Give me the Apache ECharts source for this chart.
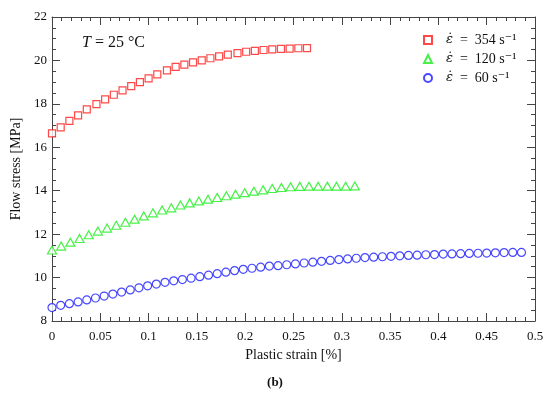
<!DOCTYPE html>
<html>
<head>
<meta charset="utf-8">
<script src="https://cdn.jsdelivr.net/npm/echarts@6/dist/echarts.min.js"></script>
<style>html,body{margin:0;padding:0;background:#fff;}#c{width:550px;height:398px;}</style>
</head>
<body>
<div id="c"></div>
<script>
// Strain [%] and flow stress [MPa]
var redX = [0, 0.009, 0.018, 0.027, 0.036, 0.046, 0.055, 0.064, 0.073, 0.082, 0.091, 0.100, 0.109, 0.119, 0.128, 0.137, 0.146, 0.155, 0.164, 0.173, 0.182, 0.192, 0.201, 0.210, 0.219, 0.228, 0.237, 0.246, 0.255, 0.264];
var redY = [16.64, 16.92, 17.22, 17.47, 17.75, 17.99, 18.21, 18.42, 18.62, 18.82, 19.00, 19.17, 19.36, 19.54, 19.70, 19.81, 19.91, 20.00, 20.10, 20.19, 20.27, 20.34, 20.40, 20.44, 20.48, 20.51, 20.53, 20.54, 20.56, 20.57];

var greenX = [0, 0.0095, 0.019, 0.0285, 0.038, 0.0475, 0.057, 0.0665, 0.076, 0.0855, 0.095, 0.1045, 0.114, 0.1235, 0.133, 0.1425, 0.152, 0.1615, 0.171, 0.1805, 0.190, 0.1995, 0.209, 0.2185, 0.228, 0.2375, 0.247, 0.2565, 0.266, 0.2755, 0.285, 0.2945, 0.304, 0.3135];
var greenY = [11.27, 11.45, 11.63, 11.80, 11.97, 12.14, 12.28, 12.41, 12.55, 12.69, 12.84, 12.98, 13.11, 13.21, 13.34, 13.44, 13.53, 13.61, 13.69, 13.77, 13.84, 13.91, 13.98, 14.04, 14.10, 14.15, 14.18, 14.20, 14.21, 14.21, 14.21, 14.21, 14.21, 14.22];

var blueX = [0, 0.009, 0.018, 0.027, 0.036, 0.045, 0.054, 0.063, 0.072, 0.081, 0.090, 0.099, 0.108, 0.117, 0.126, 0.135, 0.144, 0.153, 0.162, 0.171, 0.180, 0.189, 0.198, 0.207, 0.216, 0.225, 0.234, 0.243, 0.252, 0.261, 0.270, 0.279, 0.288, 0.297, 0.306, 0.315, 0.324, 0.333, 0.342, 0.351, 0.360, 0.369, 0.378, 0.387, 0.396, 0.405, 0.414, 0.423, 0.432, 0.441, 0.450, 0.459, 0.468, 0.477, 0.486];
var blueY = [8.62, 8.72, 8.80, 8.88, 8.97, 9.06, 9.15, 9.24, 9.33, 9.43, 9.53, 9.62, 9.70, 9.78, 9.85, 9.91, 9.97, 10.04, 10.11, 10.18, 10.25, 10.32, 10.38, 10.43, 10.48, 10.53, 10.55, 10.59, 10.63, 10.67, 10.71, 10.75, 10.79, 10.83, 10.86, 10.89, 10.92, 10.94, 10.96, 10.98, 11.00, 11.02, 11.03, 11.05, 11.06, 11.08, 11.09, 11.10, 11.11, 11.12, 11.13, 11.14, 11.15, 11.16, 11.16];

var seriesNames = ['354', '120', '60'];
var xTicks = {min: 0, max: 0.5, interval: 0.05};
var yTicks = {min: 8, max: 22, interval: 2};

function pairs(xs, ys) { return xs.map(function (x, i) { return [x, ys[i]]; }); }

var serif = '"Liberation Serif", "DejaVu Serif", serif';
var axisCol = '#444';

function makeAxis(base, pos, showLabel, splitNum, extra) {
  var a = {
    type: 'value', position: pos,
    min: base.min, max: base.max, interval: base.interval,
    axisLine: {show: true, onZero: false, lineStyle: {color: axisCol, width: 1}},
    axisTick: {show: true, inside: true, length: 8, lineStyle: {color: axisCol}},
    minorTick: {show: true, splitNumber: splitNum, length: 4, lineStyle: {color: axisCol}},
    splitLine: {show: false},
    axisLabel: {show: showLabel, color: '#111', fontFamily: serif, fontSize: 13}
  };
  for (var k in extra) a[k] = extra[k];
  return a;
}

var chart = echarts.init(document.getElementById('c'), null, {renderer: 'canvas'});
var legendRich = {
  e: {fontFamily: '"DejaVu Serif", serif', fontStyle: 'italic', fontSize: 13, color: '#111'},
  n: {fontFamily: serif, fontSize: 14, color: '#111'}
};
chart.setOption({
  backgroundColor: '#fff',
  animation: false,
  grid: {left: 52, right: 15, top: 17, bottom: 77},
  xAxis: [
    makeAxis(xTicks, 'bottom', true, 5, {
      name: 'Plastic strain [%]', nameLocation: 'middle', nameGap: 27,
      nameTextStyle: {fontFamily: serif, fontSize: 14, color: '#111'},
      axisLabel: {show: true, color: '#111', fontFamily: serif, fontSize: 13, margin: 9,
        formatter: function (v) { return String(+v.toFixed(2)); }}
    }),
    makeAxis(xTicks, 'top', false, 5, {})
  ],
  yAxis: [
    makeAxis(yTicks, 'left', true, 4, {
      name: 'Flow stress [MPa]', nameLocation: 'middle', nameGap: 27,
      nameTextStyle: {fontFamily: serif, fontSize: 14, color: '#111'},
      axisLabel: {show: true, color: '#111', fontFamily: serif, fontSize: 13, margin: 5}
    }),
    makeAxis(yTicks, 'right', false, 4, {})
  ],
  legend: {
    orient: 'vertical', left: 418, top: 28,
    itemWidth: 8, itemHeight: 8, itemGap: 5,
    textStyle: {fontFamily: serif, fontSize: 14, color: '#111', padding: [0, 0, 0, 9], rich: legendRich},
    formatter: function (name) { return '{e|ε̇}{n|  =  ' + name + ' s⁻¹}'; },
    data: seriesNames
  },
  graphic: [
    {type: 'text', left: 82, top: 35,
      style: {text: '{i|T}{n| = 25 °C}', rich: {
        i: {fontFamily: serif, fontStyle: 'italic', fontSize: 16, fill: '#111'},
        n: {fontFamily: serif, fontSize: 16, fill: '#111'}}}},
    {type: 'text', left: 'center', top: 376,
      style: {text: '(b)', fontFamily: serif, fontWeight: 'bold', fontSize: 13, fill: '#111'}}
  ],
  series: [
    {name: seriesNames[0], type: 'scatter', symbol: 'rect', symbolSize: 7,
      itemStyle: {color: '#fff', borderColor: '#ff1a1a', borderWidth: 1.2},
      data: pairs(redX, redY)},
    {name: seriesNames[1], type: 'scatter', symbol: 'triangle', symbolSize: [9, 8],
      itemStyle: {color: '#fff', borderColor: '#1aee1a', borderWidth: 1.2},
      data: pairs(greenX, greenY)},
    {name: seriesNames[2], type: 'scatter', symbol: 'circle', symbolSize: 8,
      itemStyle: {color: '#fff', borderColor: '#1a1aff', borderWidth: 1.2},
      data: pairs(blueX, blueY)}
  ]
});
</script>
</body>
</html>
